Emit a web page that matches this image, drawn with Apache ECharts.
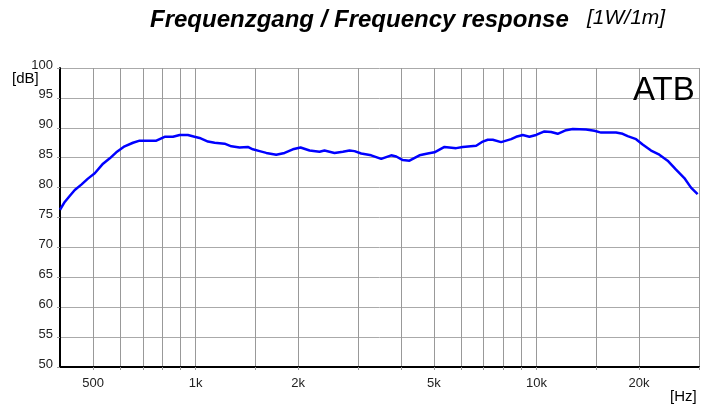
<!DOCTYPE html>
<html>
<head>
<meta charset="utf-8">
<script src="https://cdn.jsdelivr.net/npm/echarts@6/dist/echarts.min.js"></script>
<style>
  html, body { margin: 0; padding: 0; background: #fff; }
  #chart { width: 708px; height: 406px; }
</style>
</head>
<body>
<div id="chart"></div>
<script>
// frequency (Hz) and level (dB)
var freqs = [400, 413, 427, 442, 462, 483, 506, 535, 560, 585, 619, 655, 685, 767, 811, 858, 898, 949, 993,
  1027, 1087, 1137, 1216, 1273, 1346, 1423, 1472, 1541, 1612, 1724, 1824, 1929, 2032, 2160, 2310, 2389, 2556,
  2704, 2829, 2926, 3061, 3275, 3504, 3749, 3879, 4055, 4242, 4538, 4799, 5022, 5374, 5815, 6079, 6657, 6961,
  7198, 7446, 7880, 8432, 8720, 9117, 9539, 9980, 10556, 11045, 11547, 12222, 12784, 13992, 14797, 15480,
  17127, 17911, 18527, 19610, 20500, 21700, 22950, 24270, 25690, 27170, 28420, 29720];
var levels = [76.3, 77.6, 78.6, 79.6, 80.5, 81.5, 82.4, 84.0, 84.9, 85.9, 86.9, 87.5, 87.85, 87.85, 88.5, 88.5, 88.8, 88.8, 88.5,
  88.3, 87.7, 87.5, 87.35, 86.9, 86.7, 86.8, 86.4, 86.1, 85.8, 85.5, 85.8, 86.4, 86.7, 86.2, 86.0, 86.2, 85.8,
  86.0, 86.2, 86.1, 85.7, 85.4, 84.8, 85.4, 85.2, 84.6, 84.5, 85.4, 85.7, 85.9, 86.8, 86.6, 86.8, 87.0, 87.7,
  88.0, 88.0, 87.6, 88.1, 88.5, 88.8, 88.5, 88.8, 89.4, 89.3, 89.0, 89.6, 89.8, 89.7, 89.5, 89.2,
  89.2, 89.0, 88.6, 88.1, 87.2, 86.2, 85.5, 84.5, 83.0, 81.6, 80.0, 78.9];
var gridFreqs = [500, 600, 700, 800, 900, 1000, 1500, 2000, 3000, 4000, 5000, 6000, 7000, 8000, 9000,
  10000, 15000, 20000, 30000];
var labelFreqs = [500, 1000, 2000, 5000, 10000, 20000];

var font = 'Liberation Sans, Arial, sans-serif';
var chart = echarts.init(document.getElementById('chart'));

chart.setOption({
  animation: false,
  title: [
    {
      text: 'Frequenzgang / Frequency response',
      left: 150, top: 8, padding: 0,
      textStyle: { fontFamily: font, fontSize: 24, fontWeight: 'bold', fontStyle: 'italic', color: '#000' }
    },
    {
      text: '[1W/1m]',
      left: 587, top: 8, padding: 0,
      textStyle: { fontFamily: font, fontSize: 21, fontWeight: 'normal', fontStyle: 'italic', color: '#000' }
    },
    {
      text: '[dB]',
      left: 12, top: 71, padding: 0,
      textStyle: { fontFamily: font, fontSize: 15, fontWeight: 'normal', color: '#000' }
    },
    {
      text: '[Hz]',
      left: 670, top: 389, padding: 0,
      textStyle: { fontFamily: font, fontSize: 15, fontWeight: 'normal', color: '#000' }
    },
    {
      text: 'ATB',
      left: 633, top: 74, padding: 0,
      textStyle: { fontFamily: font, fontSize: 33, fontWeight: 'normal', color: '#000' }
    }
  ],
  grid: { left: 60, right: 9, top: 68, bottom: 39 },
  xAxis: {
    type: 'log',
    logBase: 10,
    min: 400,
    max: 30000,
    axisLine: { show: true, lineStyle: { color: '#000', width: 2 } },
    axisTick: { show: true, length: 3, customValues: gridFreqs, lineStyle: { color: '#999' } },
    splitLine: { show: true, lineStyle: { color: '#999', width: 1 } },
    minorSplitLine: { show: false },
    axisLabel: {
      customValues: labelFreqs,
      margin: 10,
      fontFamily: font, fontSize: 13, color: '#222',
      formatter: function (v) {
        return v >= 1000 ? (v / 1000) + 'k' : String(v);
      }
    }
  },
  yAxis: {
    type: 'value',
    min: 50,
    max: 100,
    interval: 5,
    axisLine: { show: true, lineStyle: { color: '#000', width: 2 } },
    axisTick: { show: true, length: 3, lineStyle: { color: '#999' } },
    splitLine: { show: true, lineStyle: { color: '#aaa', width: 1 } },
    axisLabel: {
      margin: 7,
      verticalAlign: 'bottom',
      lineHeight: 6,
      fontFamily: font, fontSize: 13, color: '#222'
    }
  },
  series: [
    {
      type: 'line',
      data: freqs.map(function (f, i) { return [f, levels[i]]; }),
      showSymbol: false,
      symbol: 'none',
      lineStyle: { color: '#0000ff', width: 2.5 },
      z: 5
    }
  ]
});
</script>
</body>
</html>
